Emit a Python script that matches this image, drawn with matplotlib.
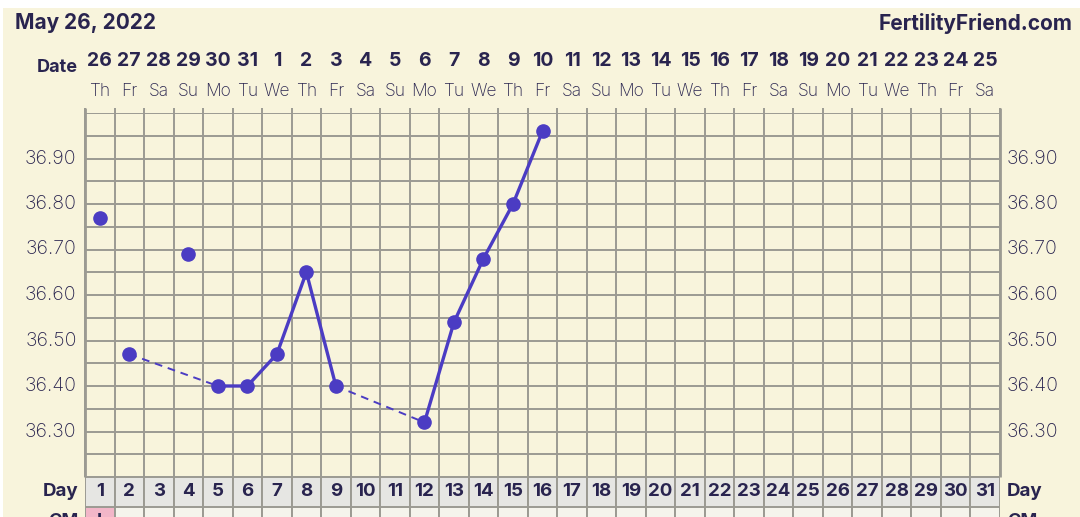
import matplotlib.pyplot as plt
import matplotlib.transforms as mtransforms
from matplotlib.patches import Rectangle
import numpy as np

# ---- datos ----
cycle_days = list(range(1, 32))
dates = [26, 27, 28, 29, 30, 31] + list(range(1, 26))
weekdays = (["Th", "Fr", "Sa", "Su", "Mo", "Tu", "We"] * 5)[:31]

temp_days = [1, 2, 4, 5, 6, 7, 8, 9, 12, 13, 14, 15, 16]
temps = [36.77, 36.47, 36.69, 36.40, 36.40, 36.47, 36.65, 36.40,
         36.32, 36.54, 36.68, 36.80, 36.96]
solid_runs = [[5, 6, 7, 8, 9], [12, 13, 14, 15, 16]]
dashed_runs = [[2, 5], [9, 12]]

ylabels = [36.30, 36.40, 36.50, 36.60, 36.70, 36.80, 36.90]
cm_row = {1: "I"}

# ---- estilo ----
W, H = 1080, 517
CREAM = '#F8F4DC'
INK = '#29244F'
LINE = '#4B3CC3'
GRID = '#9B9A92'
FONT = 'Inter'

fig = plt.figure(figsize=(W / 100, H / 100), dpi=100)
fig.patch.set_facecolor('white')
fig.patches.append(Rectangle((3 / W, 0), 1, (H - 8) / H, transform=fig.transFigure,
                             facecolor=CREAM, edgecolor='none', zorder=-10))


def px_axes(x0, y0, x1, y1):
    return fig.add_axes([x0 / W, (H - y1) / H, (x1 - x0) / W, (y1 - y0) / H])


# Cuadricula principal
ax = px_axes(85, 113, 1000, 477)
ax.set_xlim(0.5, 31.5)
ax.set_ylim(36.20, 37.00)
ax.set_facecolor(CREAM)
for s in ax.spines.values():
    s.set_visible(False)
ax.set_xticks([])
ax.set_yticks([])

xs = np.arange(0.5, 32, 1)
ys = np.arange(36.20, 37.001, 0.05)
ax.hlines(ys, 0.5, 31.5, color=GRID, linewidth=1.4, zorder=1)
ax.vlines(xs, 36.20, 37.012, color=GRID, linewidth=1.4, zorder=1, clip_on=False)
ax.vlines([0.5, 31.5], 36.20, 37.012, color=GRID, linewidth=2.0, zorder=1, clip_on=False)

# Temperaturas
lookup = dict(zip(temp_days, temps))
for run in solid_runs:
    ax.plot(run, [lookup[d] for d in run], color=LINE, linewidth=2.4, zorder=3,
            solid_capstyle='round')
for run in dashed_runs:
    ax.plot(run, [lookup[d] for d in run], color=LINE, linewidth=1.4,
            linestyle=(0, (4, 3)), zorder=3)
ax.plot(temp_days, temps, linestyle='none', marker='o', markersize=9.5,
        color=LINE, zorder=4)

# Etiquetas eje y
for v in ylabels:
    ax.text(0.22, v, f"{v:.2f}", ha='right', va='center', fontsize=14,
            color=INK, family=FONT, fontweight='light')
    ax.text(31.74, v, f"{v:.2f}", ha='left', va='center', fontsize=14,
            color=INK, family=FONT, fontweight='light')

# Cabecera
trans_top = mtransforms.blended_transform_factory(ax.transData, fig.transFigure)
for d, dt, wd in zip(cycle_days, dates, weekdays):
    ax.text(d, (H - 61) / H, str(dt), transform=trans_top, ha='center', va='center',
            fontsize=14, fontweight='bold', color=INK, family=FONT)
    ax.text(d, (H - 91) / H, wd, transform=trans_top, ha='center', va='center',
            fontsize=12.5, color=INK, family=FONT, fontweight='light')

fig.text(78 / W, (H - 67) / H, "Date", ha='right', va='center', fontsize=13,
         fontweight='bold', color=INK, family=FONT)
fig.text(15 / W, (H - 23) / H, "May 26, 2022", ha='left', va='center', fontsize=15,
         fontweight='bold', color=INK, family=FONT)
fig.text(1072 / W, (H - 23) / H, "FertilityFriend.com", ha='right', va='center',
         fontsize=15, fontweight='bold', color=INK, family=FONT)

# Fila "Day"
ax_day = px_axes(85, 477, 1000, 507)
ax_day.set_xlim(0.5, 31.5)
ax_day.set_ylim(0, 1)
ax_day.axis('off')
ax_day.bar(cycle_days, 1, width=1, bottom=0, color='#E6E6E3', edgecolor=GRID,
           linewidth=1.4)
for d in cycle_days:
    ax_day.text(d, 0.5, str(d), ha='center', va='center', fontsize=13.5,
                fontweight='bold', color=INK, family=FONT)
fig.text(78 / W, (H - 491) / H, "Day", ha='right', va='center', fontsize=13.5,
         fontweight='bold', color=INK, family=FONT)
fig.text(1007 / W, (H - 491) / H, "Day", ha='left', va='center', fontsize=13.5,
         fontweight='bold', color=INK, family=FONT)

# Fila "CM" (cortada por el borde inferior, como en la captura)
ax_cm = px_axes(85, 507, 1000, 537)
ax_cm.set_xlim(0.5, 31.5)
ax_cm.set_ylim(0, 1)
ax_cm.axis('off')
cm_colors = ['#F2B6C8' if d in cm_row else '#F5F4EC' for d in cycle_days]
ax_cm.bar(cycle_days, 1, width=1, color=cm_colors, edgecolor=GRID, linewidth=1.4)
for d, t in cm_row.items():
    ax_cm.text(d, 0.5, t, ha='center', va='center', fontsize=13,
               fontweight='bold', color=INK, family=FONT)
fig.text(78 / W, (H - 522) / H, "CM", ha='right', va='center', fontsize=13,
         fontweight='bold', color=INK, family=FONT)
fig.text(1007 / W, (H - 522) / H, "CM", ha='left', va='center', fontsize=13,
         fontweight='bold', color=INK, family=FONT)

fig.savefig('out.png', dpi=100)
